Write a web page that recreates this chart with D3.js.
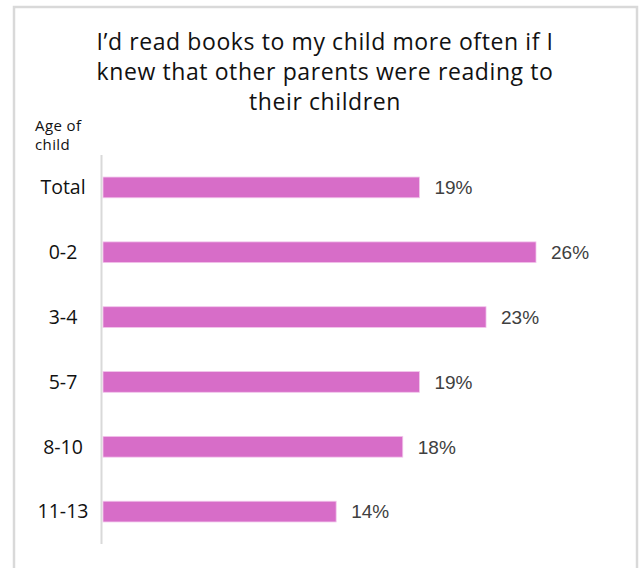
<!DOCTYPE html>
<html>
<head>
<meta charset="utf-8">
<script src="https://cdn.jsdelivr.net/npm/d3@7"></script>
<style>
  html, body { margin: 0; padding: 0; background: #fff; }
  svg { display: block; }
</style>
</head>
<body>
<svg id="chart" width="643" height="568"></svg>
<script>
// Share of parents agreeing, by age of child
const categories = ["Total", "0-2", "3-4", "5-7", "8-10", "11-13"];
const values = [19, 26, 23, 19, 18, 14];
const titleLines = [
  "I\u2019d read books to my child more often if I",
  "knew that other parents were reading to",
  "their children"
];
const axisTitleLines = ["Age of", "child"];

const W = 643, H = 568;
const svg = d3.select("#chart");
const labelFont = "'Open Sans', Lato, sans-serif";

// outer frame
svg.append("rect")
  .attr("x", 14).attr("y", 7)
  .attr("width", 623).attr("height", 580)
  .attr("fill", "#fff")
  .attr("stroke", "#d9d9d9").attr("stroke-width", 2.5);

// title
svg.append("g").selectAll("text")
  .data(titleLines)
  .join("text")
  .attr("x", 325)
  .attr("y", (d, i) => 50 + i * 30)
  .attr("text-anchor", "middle")
  .attr("font-family", labelFont)
  .attr("font-size", 23)
  .attr("letter-spacing", 0.6)
  .attr("fill", "#111")
  .text(d => d);

// axis caption
svg.append("g").selectAll("text")
  .data(axisTitleLines)
  .join("text")
  .attr("x", 35)
  .attr("y", (d, i) => 131 + i * 19)
  .attr("font-family", labelFont)
  .attr("font-size", 15)
  .attr("letter-spacing", 0.4)
  .attr("fill", "#111")
  .text(d => d);

const x = d3.scaleLinear().domain([0, 26]).range([103, 536]);
const y = d3.scaleBand().domain(categories).range([155, 544]).paddingInner(0.68).paddingOuter(0.34);

// category axis
const yAxis = svg.append("g")
  .attr("transform", "translate(102,0)")
  .call(d3.axisLeft(y).tickSize(0).tickPadding(0));
yAxis.select(".domain").remove();
yAxis.selectAll(".tick text")
  .attr("x", -39)
  .attr("text-anchor", "middle")
  .attr("dy", "0.35em")
  .attr("font-family", labelFont)
  .attr("font-size", 19.5)
  .attr("fill", "#111");

svg.append("line")
  .attr("x1", 101.5).attr("x2", 101.5)
  .attr("y1", 155).attr("y2", 544)
  .attr("stroke", "#d9d9d9").attr("stroke-width", 2);

const rows = categories.map((c, i) => ({ c, v: values[i] }));

// bars
svg.append("g").selectAll("rect")
  .data(rows)
  .join("rect")
  .attr("x", x(0))
  .attr("y", d => y(d.c))
  .attr("width", d => x(d.v) - x(0))
  .attr("height", y.bandwidth())
  .attr("fill", "#d76dc8")
  .attr("stroke", "#f2c6ec").attr("stroke-width", 0.8);

// value labels
svg.append("g").selectAll("text")
  .data(rows)
  .join("text")
  .attr("x", d => x(d.v) + 15)
  .attr("y", d => y(d.c) + y.bandwidth() / 2)
  .attr("dy", "0.36em")
  .attr("font-family", "'Liberation Sans', Arial, sans-serif")
  .attr("font-size", 19)
  .attr("fill", "#404040")
  .text(d => d.v + "%");
</script>
</body>
</html>
